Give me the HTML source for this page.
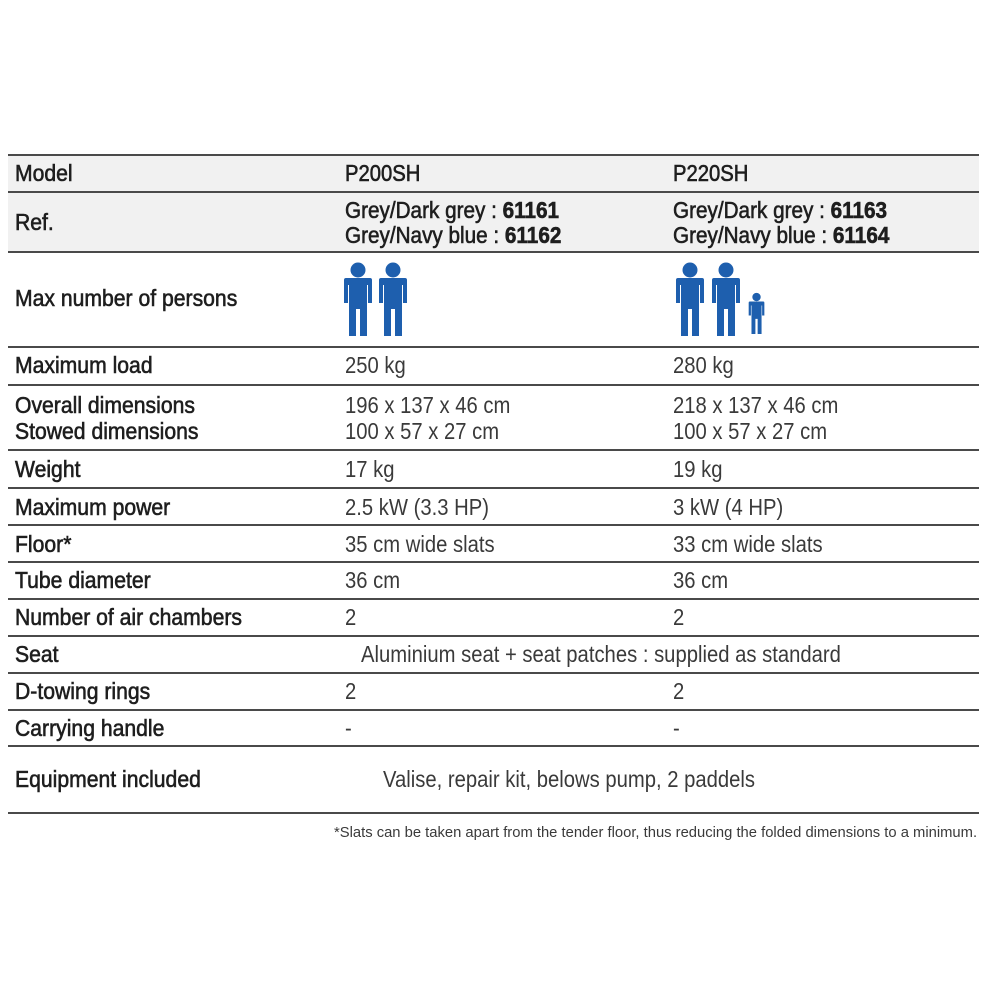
<!DOCTYPE html>
<html><head><meta charset="utf-8"><style>
body{margin:0;width:1000px;height:1000px;background:#fff;position:relative;overflow:hidden;font-family:"Liberation Sans",sans-serif;}
.l{position:absolute;left:8px;width:971px;height:2px;background:#4a4a4a;}
.t{position:absolute;height:26px;line-height:26px;font-size:23px;white-space:nowrap;transform:scaleX(0.88);transform-origin:left center;}
.k{color:#1e1e1e;-webkit-text-stroke:0.6px #1e1e1e;transform:scaleX(0.92);}
.v{color:#3a3a3a;}
.b{font-weight:bold;color:#1e1e1e;}
</style></head><body>
<div style="position:absolute;left:8px;top:155px;width:971px;height:97px;background:#f1f1f1"></div>
<div class="l" style="top:154px"></div>
<div class="l" style="top:191px"></div>
<div class="l" style="top:251px"></div>
<div class="l" style="top:346px"></div>
<div class="l" style="top:384px"></div>
<div class="l" style="top:449px"></div>
<div class="l" style="top:487px"></div>
<div class="l" style="top:524px"></div>
<div class="l" style="top:561px"></div>
<div class="l" style="top:598px"></div>
<div class="l" style="top:635px"></div>
<div class="l" style="top:672px"></div>
<div class="l" style="top:709px"></div>
<div class="l" style="top:745px"></div>
<div class="l" style="top:812px"></div>

<div class="t k" style="left:15px;top:160px">Model</div>
<div class="t k" style="left:345px;top:160px;transform:scaleX(0.88)">P200SH</div>
<div class="t k" style="left:673px;top:160px;transform:scaleX(0.88)">P220SH</div>

<div class="t k" style="left:15px;top:209px">Ref.</div>
<div class="t k" style="left:345px;top:197px;transform:scaleX(0.9)">Grey/Dark grey : <span class="b">61161</span></div>
<div class="t k" style="left:345px;top:222px;transform:scaleX(0.9)">Grey/Navy blue : <span class="b">61162</span></div>
<div class="t k" style="left:673px;top:197px;transform:scaleX(0.9)">Grey/Dark grey : <span class="b">61163</span></div>
<div class="t k" style="left:673px;top:222px;transform:scaleX(0.9)">Grey/Navy blue : <span class="b">61164</span></div>

<div class="t k" style="left:15px;top:285px">Max number of persons</div>
<svg style="position:absolute;left:0;top:0" width="1000" height="400">
<defs><g id="p" fill="#1e5fae">
<circle cx="17" cy="9" r="7.5"/>
<path d="M3 19 Q3 17 5 17 L29 17 Q31 17 31 19 L31 42 L27 42 L27 24 L26 24 L26 75 L19 75 L19 48 L15 48 L15 75 L8 75 L8 24 L7 24 L7 42 L3 42 Z"/>
</g></defs>
<use href="#p" x="341" y="261"/>
<use href="#p" x="376" y="261"/>
<use href="#p" x="673" y="261"/>
<use href="#p" x="709" y="261"/>
<g transform="translate(747,292) scale(0.56)"><use href="#p"/></g>
</svg>

<div class="t k" style="left:15px;top:352px">Maximum load</div>
<div class="t v" style="left:345px;top:352px">250 kg</div>
<div class="t v" style="left:673px;top:352px">280 kg</div>

<div class="t k" style="left:15px;top:392px">Overall dimensions</div>
<div class="t k" style="left:15px;top:418px">Stowed dimensions</div>
<div class="t v" style="left:345px;top:392px">196 x 137 x 46 cm</div>
<div class="t v" style="left:345px;top:418px">100 x 57 x 27 cm</div>
<div class="t v" style="left:673px;top:392px">218 x 137 x 46 cm</div>
<div class="t v" style="left:673px;top:418px">100 x 57 x 27 cm</div>

<div class="t k" style="left:15px;top:456px">Weight</div>
<div class="t v" style="left:345px;top:456px">17 kg</div>
<div class="t v" style="left:673px;top:456px">19 kg</div>

<div class="t k" style="left:15px;top:494px">Maximum power</div>
<div class="t v" style="left:345px;top:494px">2.5 kW (3.3 HP)</div>
<div class="t v" style="left:673px;top:494px">3 kW (4 HP)</div>

<div class="t k" style="left:15px;top:531px">Floor*</div>
<div class="t v" style="left:345px;top:531px">35 cm wide slats</div>
<div class="t v" style="left:673px;top:531px">33 cm wide slats</div>

<div class="t k" style="left:15px;top:567px">Tube diameter</div>
<div class="t v" style="left:345px;top:567px">36 cm</div>
<div class="t v" style="left:673px;top:567px">36 cm</div>

<div class="t k" style="left:15px;top:604px">Number of air chambers</div>
<div class="t v" style="left:345px;top:604px">2</div>
<div class="t v" style="left:673px;top:604px">2</div>

<div class="t k" style="left:15px;top:641px">Seat</div>
<div class="t v" style="left:361px;top:641px">Aluminium seat + seat patches : supplied as standard</div>

<div class="t k" style="left:15px;top:678px">D-towing rings</div>
<div class="t v" style="left:345px;top:678px">2</div>
<div class="t v" style="left:673px;top:678px">2</div>

<div class="t k" style="left:15px;top:715px">Carrying handle</div>
<div class="t v" style="left:345px;top:715px">-</div>
<div class="t v" style="left:673px;top:715px">-</div>

<div class="t k" style="left:15px;top:766px">Equipment included</div>
<div class="t v" style="left:383px;top:766px">Valise, repair kit, belows pump, 2 paddels</div>

<div class="t v" style="left:334px;top:822px;font-size:15px;height:22px;line-height:22px;transform:scaleX(0.985)">*Slats can be taken apart from the tender floor, thus reducing the folded dimensions to a minimum.</div>
</body></html>
